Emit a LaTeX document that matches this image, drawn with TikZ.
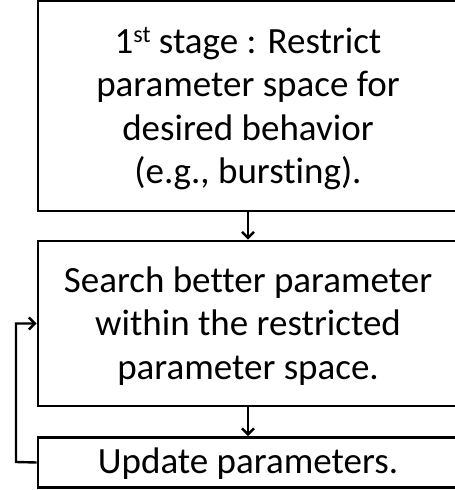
\documentclass[tikz,border=0pt]{standalone}
\usepackage{fontspec}
\setmainfont[Ligatures=NoCommon]{Carlito}
\usetikzlibrary{arrows.meta}
\newcommand{\supst}[1]{\raisebox{0.28em}{\fontsize{24}{24}\selectfont #1}}
\tikzset{
  box/.style={draw=black, line width=2.8pt, fill=white, inner sep=0pt},
  boxtext/.style={align=center, inner sep=0pt, font=\fontsize{37}{43.5}\selectfont},
  conn/.style={line width=2.4pt, -{Straight Barb[length=6pt,width=12pt,line width=2.4pt]}}
}
\begin{document}
\begin{tikzpicture}[x=1pt,y=-1pt]
\useasboundingbox (0,0) rectangle (455,490);
\node[box, minimum width=420pt, minimum height=210pt] (b1) at (248,106) {};
\node[boxtext] (t1) at ([yshift=-3pt]b1.center)
  {1\supst{st} stage : Restrict\\parameter space for\\desired behavior\\(e.g., bursting).};
\node[box, minimum width=420pt, minimum height=165pt] (b2) at (248,323.5) {};
\node[boxtext] (t2) at ([yshift=-2.5pt]b2.center)
  {Search better parameter\\within the restricted\\parameter space.};
\node[box, minimum width=420pt, minimum height=50pt] (b3) at (248,462.5) {};
\node[boxtext] (t3) at ([yshift=-1.5pt]b3.center) {Update parameters.};
\coordinate (fb) at (16,462);
\draw[conn] (b1.south) -- (b2.north);
\draw[conn] (b2.south) -- (b3.north);
\draw[conn] (b3.west) -- (fb) |- (b2.west);
\end{tikzpicture}
\end{document}
